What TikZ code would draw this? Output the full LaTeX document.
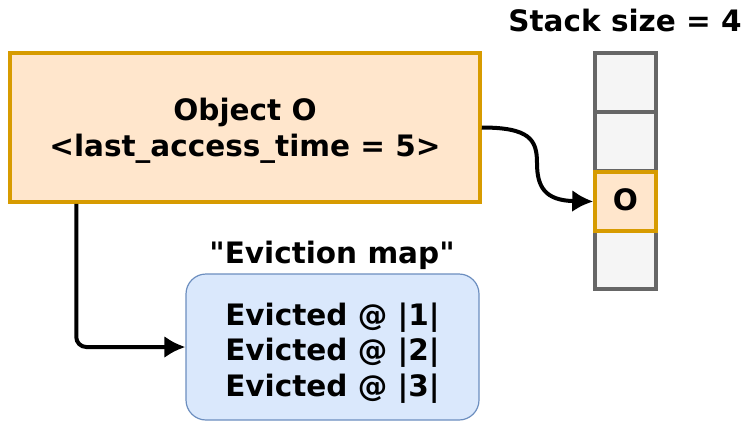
\documentclass[tikz,border=0pt]{standalone}
\usepackage{fontspec}
\setmainfont{DejaVu Sans}
\usetikzlibrary{arrows.meta}
% straight double quote, bypassing the TeX ligature mapping
\newcommand\straightdq{\XeTeXglyph\XeTeXcharglyph"22\relax}
\definecolor{objfill}{HTML}{FFE6CC}
\definecolor{objline}{HTML}{D79B00}
\definecolor{cellfill}{HTML}{F5F5F5}
\definecolor{cellline}{HTML}{666666}
\definecolor{mapfill}{HTML}{DAE8FC}
\definecolor{mapline}{HTML}{6C8EBF}
\tikzset{
  lbl/.style={font=\fontsize{29.5}{35.5}\selectfont\bfseries, align=center, inner sep=0pt},
  objbox/.style={draw=objline, fill=objfill, line width=3.5pt, inner sep=0pt},
  cellbox/.style={lbl, draw=cellline, fill=cellfill, line width=3.5pt,
    minimum width=61pt, minimum height=59pt},
  hotcell/.style={cellbox, draw=objline, fill=objfill, text height=18pt, text depth=0pt},
  mapbox/.style={draw=mapline, fill=mapfill, line width=1.2pt, rounded corners=20pt, inner sep=0pt},
  link/.style={line width=4pt,
    -{Latex[length=21pt,width=22pt]}},
}
\begin{document}
\begin{tikzpicture}[x=1pt,y=-1pt]
\useasboundingbox (0,0) rectangle (743,421);

% object record
\node[objbox, minimum width=470pt, minimum height=149pt] (obj) at (245,127.5) {};
\node[lbl] (objtext) at (245,131) {Object O\\<last\_access\_time = 5>};

% stack of four slots
\node[lbl] (stacklbl) at (625,20) {Stack size = 4};
\node[cellbox] (c1) at (625.5,82.5) {};
\node[cellbox] (c2) at (625.5,141.5) {};
\node[cellbox] (c4) at (625.5,259.5) {};
\node[hotcell] (c3) at (625.5,201.5) {O};

% eviction map
\node[lbl] (maplbl) at (332,255) {\straightdq Eviction map\straightdq};
\node[mapbox, minimum width=293pt, minimum height=146pt] (emap) at (332.5,347) {};
\node[lbl] (maptext) at (332.5,353) {Evicted @ |1|\\Evicted @ |2|\\Evicted @ |3|};

% connectors
\draw[link] (obj.east) .. controls (530,127.5) and (537,140) .. (537,163)
  .. controls (537,187) and (545,200.5) .. (c3.west);
\draw[link, rounded corners=10pt] ([xshift=68pt]obj.south west) |- (emap.west);
\end{tikzpicture}
\end{document}
